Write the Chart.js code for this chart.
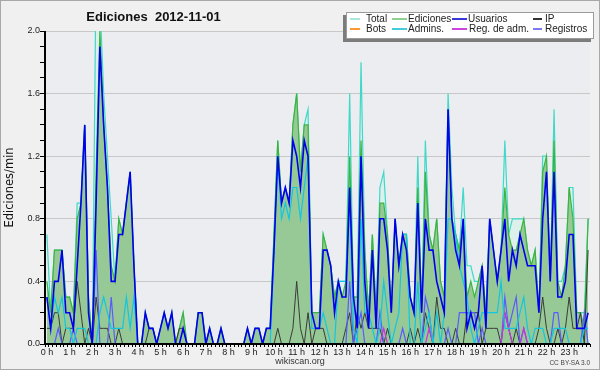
<!DOCTYPE html>
<html>
<head>
<meta charset="utf-8">
<script src="https://cdn.jsdelivr.net/npm/chart.js@4.4.0/dist/chart.umd.min.js"></script>
<style>
  body { margin: 0; background: #fff; }
  #wrap { position: relative; width: 600px; height: 370px; background: #f0f0f0; overflow: hidden; font-family: "Liberation Sans", Arial, sans-serif; }
  #frame { position: absolute; left: 0; top: 0; width: 600px; height: 370px; box-sizing: border-box; border: 1px solid #a8a8a8; pointer-events: none; }
  #title { position: absolute; left: 0; top: 9px; width: 307px; text-align: center; font: bold 13px "Liberation Sans", Arial, sans-serif; color: #111; white-space: pre; }
  #legend { position: absolute; left: 346px; top: 12px; width: 246px; height: 25px; background: #fff; border: 1px solid #9a9a9a; box-shadow: -3px 3px 0 #7c7c7c; }
  .lt { position: absolute; font-size: 10px; line-height: 10px; color: #222; white-space: nowrap; }
  .ll { position: absolute; height: 2px; }
  #site { position: absolute; left: 0; width: 600px; top: 356px; text-align: center; font-size: 9px; line-height: 10px; color: #333; }
  #lic { position: absolute; right: 10px; top: 359px; font-size: 6.5px; line-height: 7px; color: #444; }
</style>
</head>
<body>
<div id="wrap">
  <canvas id="result" width="600" height="370"></canvas>
  <div id="title">Ediciones  2012-11-01</div>
  <div id="legend"></div>
  <div id="site">wikiscan.org</div>
  <div id="lic">CC BY-SA 3.0</div>
  <div id="frame"></div>
</div>
<script>
// tick labels
const hourLabels = ['0 h', '1 h', '2 h', '3 h', '4 h', '5 h', '6 h', '7 h', '8 h', '9 h', '10 h', '11 h',
    '12 h', '13 h', '14 h', '15 h', '16 h', '17 h', '18 h', '19 h', '20 h', '21 h', '22 h', '23 h'];

// one value per 10 minutes, edits per minute
const total = [
    0.7, 0.2, 0.6, 0.6, 0.6, 0.3, 0.3, 0.2, 0.9, 0.9, 1.4, 0.3,
    0, 2.4, 2.2, 1.6, 1.2, 0.8, 0.4, 0.8, 0.7, 0.9, 1.1, 0.5,
    0, 0, 0.2, 0.1, 0.1, 0, 0.1, 0.2, 0.1, 0.2, 0, 0.1,
    0.2, 0, 0, 0, 0.2, 0.2, 0, 0.1, 0, 0, 0.1, 0,
    0, 0, 0, 0, 0, 0.1, 0, 0.1, 0.1, 0, 0.1, 0.1,
    0.7, 1.3, 0.9, 1.0, 0.9, 1.4, 1.6, 1.1, 1.4, 1.5, 0.2, 0.2,
    0.2, 0.7, 0.6, 0.5, 0.3, 0.4, 0.4, 0.4, 1.6, 0.3, 0.3, 1.8,
    0.6, 0.2, 0.7, 0.2, 1.0, 1.1, 0.7, 0.2, 0.8, 0.5, 0.7, 0.7,
    0.3, 0.2, 1.2, 0.2, 1.3, 0.7, 0.6, 0.8, 0.4, 0.3, 1.6, 1.0,
    0.7, 0.6, 1.0, 0.5, 0.5, 0.4, 0.4, 0.5, 0.2, 0.8, 0.6, 0.4,
    0.6, 1.3, 0.7, 0.8, 0.8, 0.8, 0.8, 0.6, 0.5, 0.6, 0.2, 1.2,
    1.2, 0.4, 1.5, 0.4, 0.4, 0.5, 1.0, 1.0, 0.2, 0.2, 0.2, 0.8
];
const ediciones = [
    0.4, 0.2, 0.6, 0.6, 0.6, 0.3, 0.3, 0.2, 0.8, 0.9, 1.4, 0.3,
    0, 1.1, 2.0, 1.4, 1.0, 0.5, 0.4, 0.8, 0.7, 0.9, 1.1, 0.5,
    0, 0, 0.2, 0.1, 0.1, 0, 0.1, 0.2, 0.1, 0.2, 0, 0.1,
    0.2, 0, 0, 0, 0.2, 0.2, 0, 0.1, 0, 0, 0.1, 0,
    0, 0, 0, 0, 0, 0.1, 0, 0.1, 0.1, 0, 0.1, 0.1,
    0.7, 1.3, 0.9, 1.0, 0.9, 1.4, 1.6, 1.1, 1.4, 1.4, 0.2, 0.2,
    0.2, 0.7, 0.6, 0.5, 0.3, 0.4, 0.3, 0.4, 1.2, 0.3, 0.3, 1.3,
    0.6, 0.2, 0.7, 0.2, 0.9, 0.9, 0.7, 0.2, 0.8, 0.5, 0.7, 0.7,
    0.3, 0.2, 1.0, 0.2, 1.1, 0.7, 0.6, 0.8, 0.4, 0.3, 1.5, 0.8,
    0.7, 0.6, 0.8, 0.3, 0.4, 0.3, 0.4, 0.5, 0.2, 0.8, 0.6, 0.4,
    0.6, 1.0, 0.7, 0.6, 0.6, 0.7, 0.8, 0.6, 0.5, 0.6, 0.2, 1.1,
    1.2, 0.4, 1.3, 0.4, 0.3, 0.5, 1.0, 0.8, 0.2, 0.2, 0.1, 0.8
];
const usuarios = [
    0.3, 0.1, 0.4, 0.4, 0.6, 0.2, 0.2, 0.1, 0.5, 0.9, 1.4, 0.2,
    0, 0.9, 1.9, 1.4, 1.0, 0.4, 0.4, 0.7, 0.7, 0.9, 1.1, 0.5,
    0, 0, 0.2, 0.1, 0.1, 0, 0.1, 0.2, 0.1, 0.2, 0, 0,
    0.1, 0, 0, 0, 0.2, 0.2, 0, 0.1, 0, 0, 0.1, 0,
    0, 0, 0, 0, 0, 0.1, 0, 0.1, 0.1, 0, 0.1, 0.1,
    0.6, 1.2, 0.9, 1.0, 0.9, 1.3, 1.2, 1.0, 1.3, 1.2, 0.2, 0.1,
    0.1, 0.6, 0.6, 0.5, 0.2, 0.4, 0.3, 0.3, 1.0, 0.3, 0.1, 1.2,
    0.4, 0.1, 0.6, 0.1, 0.8, 0.8, 0.6, 0.2, 0.8, 0.5, 0.7, 0.6,
    0.3, 0.2, 0.9, 0.2, 0.8, 0.6, 0.6, 0.4, 0.3, 0.2, 1.5, 0.8,
    0.6, 0.5, 0.8, 0.1, 0.2, 0.1, 0.2, 0.5, 0.1, 0.8, 0.6, 0.4,
    0.6, 0.8, 0.4, 0.6, 0.5, 0.7, 0.6, 0.5, 0.5, 0.5, 0.2, 0.8,
    1.1, 0.4, 1.1, 0.3, 0.3, 0.4, 0.7, 0.7, 0.1, 0.1, 0.1, 0.2
];
const ip = [
    0.1, 0.1, 0.2, 0.2, 0, 0.1, 0.1, 0.1, 0.4, 0.2, 0, 0.1,
    0, 0.3, 0.1, 0.1, 0.1, 0, 0, 0.1, 0, 0, 0, 0,
    0, 0, 0, 0.1, 0.1, 0, 0, 0, 0, 0, 0, 0.1,
    0.1, 0, 0, 0, 0, 0, 0, 0, 0, 0, 0, 0,
    0, 0, 0, 0, 0, 0, 0, 0, 0, 0, 0, 0,
    0, 0.1, 0, 0, 0, 0.1, 0.4, 0.1, 0, 0.2, 0, 0.1,
    0.1, 0.1, 0, 0, 0, 0, 0, 0.1, 0.2, 0, 0.2, 0.1,
    0.2, 0.1, 0.1, 0.1, 0.1, 0, 0.1, 0, 0, 0, 0, 0,
    0.1, 0, 0.1, 0, 0.2, 0.1, 0, 0.3, 0.1, 0.1, 0, 0,
    0.1, 0, 0, 0.2, 0.2, 0.2, 0.2, 0, 0.1, 0.1, 0.1, 0.1,
    0, 0.2, 0.1, 0, 0.1, 0, 0, 0, 0, 0, 0.1, 0.3,
    0.1, 0, 0, 0.1, 0, 0.1, 0.3, 0.1, 0.1, 0.2, 0, 0.6
];
const bots = [
    0, 0, 0, 0, 0, 0, 0, 0, 0, 0, 0, 0,
    0, 0, 0, 0, 0, 0, 0, 0, 0, 0, 0, 0,
    0, 0, 0, 0, 0, 0, 0, 0, 0, 0, 0, 0,
    0, 0, 0, 0, 0, 0, 0, 0, 0, 0, 0, 0,
    0, 0, 0, 0, 0, 0, 0, 0, 0, 0, 0, 0,
    0, 0, 0, 0, 0, 0, 0, 0, 0, 0, 0, 0,
    0, 0, 0, 0, 0, 0, 0, 0, 0, 0, 0, 0,
    0, 0, 0, 0, 0, 0, 0, 0, 0, 0, 0, 0,
    0, 0, 0, 0, 0, 0, 0, 0, 0, 0, 0, 0,
    0, 0, 0, 0, 0, 0, 0, 0, 0, 0, 0, 0,
    0, 0, 0, 0, 0, 0, 0, 0, 0, 0, 0, 0,
    0, 0, 0, 0, 0, 0, 0, 0, 0, 0, 0, 0
];
const admins = [
    0.3, 0.1, 0.3, 0.2, 0.3, 0.1, 0.1, 0, 0.1, 0.1, 0.1, 0,
    0, 0, 0.2, 0.3, 0.2, 0.1, 0.1, 0.1, 0.1, 0.3, 0.1, 0.3,
    0, 0, 0, 0, 0, 0, 0, 0, 0, 0, 0, 0,
    0, 0, 0, 0, 0, 0, 0, 0, 0, 0, 0, 0,
    0, 0, 0, 0, 0, 0, 0, 0, 0, 0, 0, 0,
    0.6, 1.2, 0.8, 0.9, 0.8, 1.0, 1.0, 0.8, 1.0, 1.2, 0.1, 0.1,
    0.1, 0.2, 0.1, 0, 0, 0.4, 0.4, 0.4, 0.9, 0.1, 0, 0.8,
    0.2, 0.2, 0.1, 0, 0.1, 0.4, 0.2, 0, 0.1, 0.2, 0.7, 0.7,
    0, 0, 0.4, 0, 0.1, 0.2, 0, 0.2, 0, 0.2, 0.8, 0.8,
    0.7, 0.5, 0.4, 0.3, 0.1, 0, 0.1, 0.2, 0.2, 0.2, 0.2, 0.2,
    0.4, 0.1, 0.1, 0.1, 0.1, 0.2, 0.3, 0.1, 0, 0.1, 0.1, 0.1,
    0, 0, 0.1, 0.1, 0.1, 0.1, 0, 0, 0, 0, 0.1, 0.1
];
const regAdm = [
    0, 0, 0, 0, 0, 0, 0, 0, 0, 0, 0, 0,
    0, 0, 0, 0, 0, 0, 0, 0, 0, 0, 0, 0,
    0, 0, 0, 0, 0, 0, 0, 0, 0, 0, 0, 0,
    0, 0, 0, 0, 0, 0, 0, 0, 0, 0, 0, 0,
    0, 0, 0, 0, 0, 0, 0, 0, 0, 0, 0, 0,
    0, 0, 0, 0, 0, 0, 0, 0, 0, 0, 0, 0,
    0, 0, 0, 0, 0, 0, 0, 0, 0, 0, 0, 0,
    0, 0, 0, 0, 0, 0.1, 0, 0, 0, 0, 0, 0,
    0, 0, 0, 0, 0, 0.1, 0, 0, 0, 0, 0, 0,
    0, 0, 0, 0, 0, 0, 0, 0, 0, 0, 0, 0,
    0, 0.2, 0.1, 0, 0, 0, 0.1, 0, 0, 0, 0, 0,
    0, 0, 0, 0, 0, 0, 0, 0, 0, 0, 0, 0
];
const registros = [
    0, 0, 0, 0.1, 0, 0, 0, 0.1, 0, 0, 0, 0,
    0, 0.6, 0, 0, 0, 0.3, 0, 0, 0, 0, 0, 0,
    0, 0, 0, 0, 0, 0, 0, 0, 0, 0, 0, 0,
    0, 0, 0, 0, 0, 0, 0, 0, 0, 0, 0, 0,
    0, 0, 0, 0, 0, 0, 0, 0, 0, 0, 0, 0,
    0, 0, 0, 0, 0, 0, 0, 0, 0, 0, 0, 0,
    0, 0, 0, 0, 0, 0, 0, 0, 0.4, 0, 0.1, 0.2,
    0, 0, 0, 0, 0.2, 0, 0, 0, 0, 0, 0.1, 0,
    0, 0, 0, 0, 0.3, 0.2, 0, 0, 0, 0, 0.1, 0,
    0, 0.2, 0.2, 0.2, 0.2, 0.2, 0, 0.1, 0, 0, 0, 0,
    0, 0.3, 0.1, 0.2, 0.3, 0, 0.1, 0, 0, 0, 0, 0,
    0, 0, 0.2, 0.2, 0, 0, 0, 0, 0, 0, 0.2, 0
];

// 10-minute slots as categories
const slots = [];
hourLabels.forEach((h, k) => {
    for (let m = 0; m < 60; m += 10) slots.push(k + ':' + String(m).padStart(2, '0'));
});

const legendItems = [
    { text: 'Total', color: '#a6e6dd', line: [350, 10], textX: 366, row: 0 },
    { text: 'Ediciones', color: '#8fd08f', line: [392, 15], textX: 408, row: 0 },
    { text: 'Usuarios', color: '#3838d8', line: [452, 15], textX: 468, row: 0 },
    { text: 'IP', color: '#333333', line: [533, 9], textX: 545, row: 0 },
    { text: 'Bots', color: '#ff9933', line: [350, 10], textX: 366, row: 1 },
    { text: 'Admins.', color: '#44ccdd', line: [392, 15], textX: 408, row: 1 },
    { text: 'Reg. de adm.', color: '#cc44dd', line: [452, 15], textX: 469, row: 1 },
    { text: 'Registros', color: '#7b7bef', line: [533, 9], textX: 545, row: 1 }
];

function buildLegend () {
    let box = document.getElementById('legend');
    legendItems.forEach(item => {
        let l = document.createElement('div');
        l.className = 'll';
        l.style.left = (item.line[0] - 347) + 'px';
        l.style.width = item.line[1] + 'px';
        l.style.top = (item.row ? 28 : 18) - 13 + 'px';
        l.style.background = item.color;
        box.appendChild(l);
        let t = document.createElement('div');
        t.className = 'lt';
        t.textContent = item.text;
        t.style.left = (item.textX - 347) + 'px';
        t.style.top = (item.row ? 24 : 14) - 13 + 'px';
        box.appendChild(t);
    });
}

const plotFrame = {
    id: 'plotFrame',
    beforeDraw(chart) {
        const { ctx, chartArea: a } = chart;
        ctx.save();
        ctx.fillStyle = '#ebedf0';
        ctx.fillRect(a.left, a.top, a.right - a.left, a.bottom - a.top);
        ctx.restore();
    },
    afterDatasetsDraw(chart) {
        const { ctx, chartArea: a } = chart;
        ctx.save();
        ctx.strokeStyle = '#000';
        ctx.lineWidth = 2;
        ctx.beginPath();
        ctx.moveTo(a.left, a.top);
        ctx.lineTo(a.left, a.bottom);
        ctx.lineTo(a.right, a.bottom);
        ctx.stroke();
        ctx.restore();
    }
};

function line (label, data, color, width, order, fillColor) {
    return {
        label,
        data,
        borderColor: color,
        borderWidth: width,
        backgroundColor: fillColor || color,
        fill: fillColor ? 'origin' : false,
        pointRadius: 0,
        tension: 0,
        order
    };
}

function mountChart () {
    Chart.defaults.font.family = '"Liberation Sans", Arial, sans-serif';
    let ctx = document.getElementById('result').getContext('2d');
    new Chart(ctx, {
        type: 'line',
        data: {
            labels: slots,
            datasets: [
                line('Usuarios', usuarios, '#0000ee', 1.6, 1),
                line('Bots', bots, '#ff9933', 1, 2),
                line('Admins.', admins, '#12c6e0', 1.2, 3),
                line('Reg. de adm.', regAdm, '#cc33dd', 1.2, 4),
                line('Registros', registros, '#5a5aff', 1.2, 5),
                line('IP', ip, '#3a3a3a', 1, 6),
                line('Ediciones', ediciones, '#3cb43c', 1.2, 7, '#97c997'),
                line('Total', total, '#40d8c8', 1.2, 8, '#dcf0ec')
            ]
        },
        options: {
            responsive: false,
            animation: false,
            devicePixelRatio: 1,
            layout: { padding: { left: 0, top: 31, right: 10, bottom: 0 } },
            plugins: {
                legend: { display: false },
                title: { display: false },
                tooltip: { enabled: false }
            },
            scales: {
                x: {
                    type: 'category',
                    offset: true,
                    border: { display: false },
                    grid: { display: true, offset: true, drawOnChartArea: false, drawTicks: true, tickLength: 3, tickColor: '#000' },
                    ticks: {
                        autoSkip: false,
                        maxRotation: 0,
                        padding: 0,
                        color: '#222',
                        font: { size: 9 },
                        callback: (value, index) => index % 6 === 0 ? hourLabels[index / 6] : ''
                    },
                    afterFit: scale => { scale.height = 26; }
                },
                y: {
                    min: 0,
                    max: 2,
                    border: { display: false },
                    grid: {
                        color: c => (c.tick && Math.round(c.tick.value * 10) % 4 === 0) ? '#c8c8c8' : 'rgba(0,0,0,0)',
                        tickColor: '#000',
                        tickLength: 5
                    },
                    ticks: {
                        stepSize: 0.1,
                        autoSkip: false,
                        padding: 0,
                        color: '#222',
                        font: { size: 9 },
                        callback: v => Math.round(v * 10) % 4 === 0 ? v.toFixed(1) : ''
                    },
                    title: {
                        display: true,
                        text: 'Ediciones/min',
                        color: '#111',
                        font: { family: '"DejaVu Sans", sans-serif', size: 11.5 },
                        padding: { top: 3, bottom: 0 }
                    },
                    afterFit: scale => { scale.width = 45; }
                }
            }
        },
        plugins: [plotFrame]
    });
}

buildLegend();
mountChart();
</script>
</body>
</html>
